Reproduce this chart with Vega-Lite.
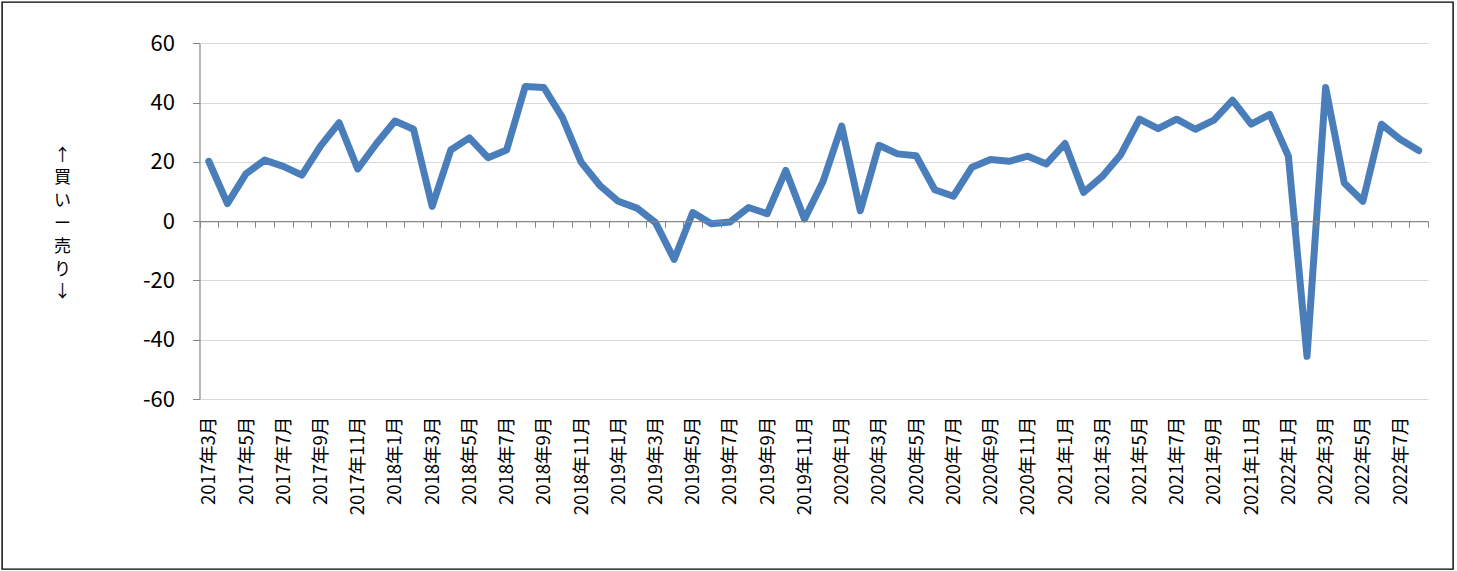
{
  "$schema": "https://vega.github.io/schema/vega-lite/v6.json",
  "width": 1451,
  "height": 567,
  "autosize": {"type": "none"},
  "padding": {"left": 2, "top": 2, "right": 4, "bottom": 2},
  "background": "#ffffff",
  "config": {
    "view": {"stroke": "#000000", "strokeWidth": 1.4},
    "font": "Noto Sans CJK JP"
  },
  "data": {
    "values": [
      {"month": "2017年3月", "value": 20.2},
      {"month": "2017年4月", "value": 5.9},
      {"month": "2017年5月", "value": 16.0},
      {"month": "2017年6月", "value": 20.6},
      {"month": "2017年7月", "value": 18.5},
      {"month": "2017年8月", "value": 15.5},
      {"month": "2017年9月", "value": 25.3},
      {"month": "2017年10月", "value": 33.2},
      {"month": "2017年11月", "value": 17.6},
      {"month": "2017年12月", "value": 26.1},
      {"month": "2018年1月", "value": 33.8},
      {"month": "2018年2月", "value": 31.0},
      {"month": "2018年3月", "value": 5.0},
      {"month": "2018年4月", "value": 24.0},
      {"month": "2018年5月", "value": 28.1},
      {"month": "2018年6月", "value": 21.4},
      {"month": "2018年7月", "value": 24.0},
      {"month": "2018年8月", "value": 45.4},
      {"month": "2018年9月", "value": 45.1},
      {"month": "2018年10月", "value": 34.9},
      {"month": "2018年11月", "value": 19.9},
      {"month": "2018年12月", "value": 12.1},
      {"month": "2019年1月", "value": 6.7},
      {"month": "2019年2月", "value": 4.4},
      {"month": "2019年3月", "value": -0.5},
      {"month": "2019年4月", "value": -12.9},
      {"month": "2019年5月", "value": 2.9},
      {"month": "2019年6月", "value": -0.9},
      {"month": "2019年7月", "value": -0.3},
      {"month": "2019年8月", "value": 4.6},
      {"month": "2019年9月", "value": 2.5},
      {"month": "2019年10月", "value": 17.1},
      {"month": "2019年11月", "value": 0.7},
      {"month": "2019年12月", "value": 13.4},
      {"month": "2020年1月", "value": 32.1},
      {"month": "2020年2月", "value": 3.5},
      {"month": "2020年3月", "value": 25.6},
      {"month": "2020年4月", "value": 22.7},
      {"month": "2020年5月", "value": 22.1},
      {"month": "2020年6月", "value": 10.6},
      {"month": "2020年7月", "value": 8.4},
      {"month": "2020年8月", "value": 18.2},
      {"month": "2020年9月", "value": 20.8},
      {"month": "2020年10月", "value": 20.2},
      {"month": "2020年11月", "value": 21.9},
      {"month": "2020年12月", "value": 19.3},
      {"month": "2021年1月", "value": 26.2},
      {"month": "2021年2月", "value": 9.7},
      {"month": "2021年3月", "value": 15.1},
      {"month": "2021年4月", "value": 22.5},
      {"month": "2021年5月", "value": 34.4},
      {"month": "2021年6月", "value": 31.2},
      {"month": "2021年7月", "value": 34.4},
      {"month": "2021年8月", "value": 31.0},
      {"month": "2021年9月", "value": 34.1},
      {"month": "2021年10月", "value": 40.8},
      {"month": "2021年11月", "value": 32.7},
      {"month": "2021年12月", "value": 36.0},
      {"month": "2022年1月", "value": 21.9},
      {"month": "2022年2月", "value": -45.6},
      {"month": "2022年3月", "value": 45.1},
      {"month": "2022年4月", "value": 12.9},
      {"month": "2022年5月", "value": 6.7},
      {"month": "2022年6月", "value": 32.7},
      {"month": "2022年7月", "value": 27.6},
      {"month": "2022年8月", "value": 23.8}
    ]
  },
  "mark": {
    "type": "line",
    "color": "#4a7ebb",
    "strokeWidth": 7,
    "strokeCap": "round",
    "strokeJoin": "round"
  },
  "encoding": {
    "x": {
      "field": "month",
      "type": "ordinal",
      "sort": null,
      "scale": {"type": "band", "range": [197.5, 1426], "paddingInner": 0, "paddingOuter": 0},
      "axis": {
        "title": null,
        "orient": "bottom",
        "offset": -347.8,
        "domainColor": "#868686",
        "domainWidth": 1.2,
        "tickColor": "#868686",
        "tickSize": 6,
        "tickBand": "extent",
        "labelAngle": -90,
        "labelAlign": "right",
        "labelBaseline": "middle",
        "labelPadding": 189,
        "labelFontSize": 18.5,
        "labelColor": "#000000",
        "labelFont": "Noto Sans CJK JP",
        "labelOverlap": false,
        "labelExpr": "test(regexp('年(1|3|5|7|9|11)月$'), datum.value) ? datum.value : ''",
        "grid": false,
        "zindex": 1
      }
    },
    "y": {
      "field": "value",
      "type": "quantitative",
      "scale": {"domain": [-60, 60], "range": [397, 41.3], "nice": false, "zero": false},
      "axis": {
        "title": ["↑", "買", "い", "ー", "売", "り", "↓"],
        "titleAngle": 0,
        "titleAlign": "center",
        "titleBaseline": "middle",
        "titleX": -137.5,
        "titleY": 153,
        "titleFontSize": 17,
        "titleFontWeight": "normal",
        "titleLineHeight": 22.8,
        "titleColor": "#000000",
        "titleFont": "Noto Sans CJK JP",
        "orient": "left",
        "offset": -197.5,
        "values": [-60, -40, -20, 0, 20, 40, 60],
        "labelExpr": "replace(datum.label, '−', '-')",
        "domainColor": "#868686",
        "domainWidth": 1.2,
        "tickColor": "#868686",
        "tickSize": 7,
        "labelPadding": 18,
        "labelFontSize": 22,
        "labelColor": "#000000",
        "labelFont": "Noto Sans CJK JP",
        "grid": true,
        "gridColor": "#d9d9d9",
        "gridWidth": 1
      }
    }
  }
}
